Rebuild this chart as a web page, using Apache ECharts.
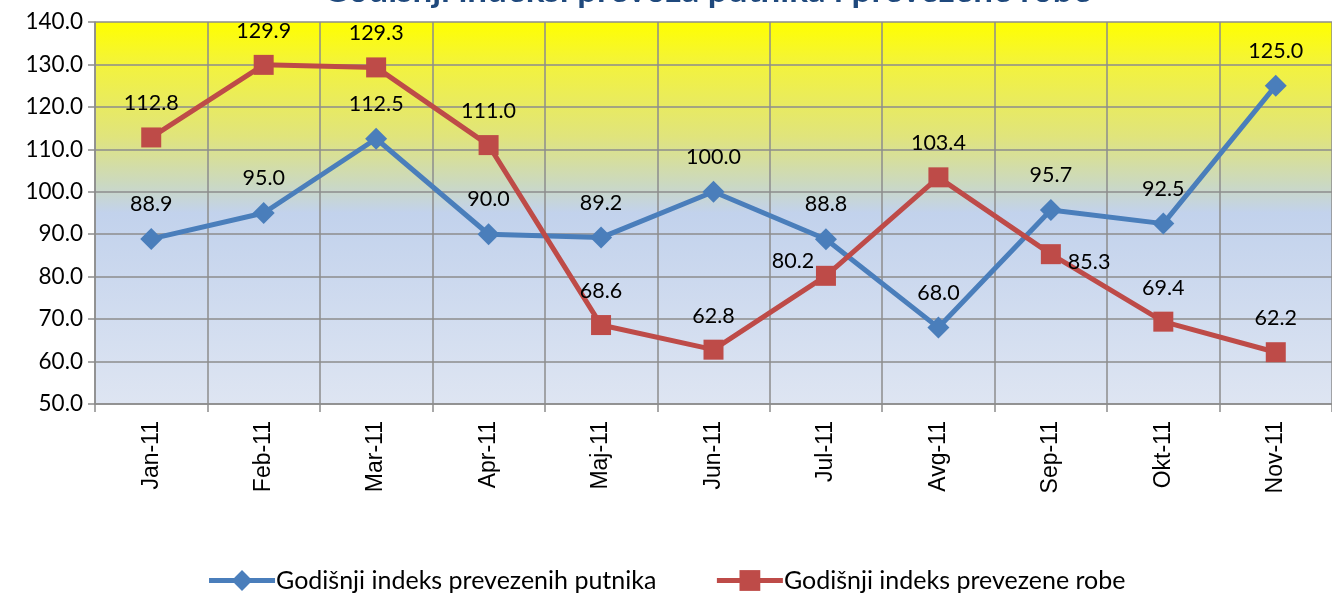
<!DOCTYPE html>
<html><head><meta charset="utf-8">
<script src="https://cdn.jsdelivr.net/npm/echarts@6/dist/echarts.min.js"></script>
<style>html,body{margin:0;padding:0;background:#fff}#c{width:1332px;height:595px}</style>
</head><body><div id="c"></div>
<script>
const categories = ['Jan-11','Feb-11','Mar-11','Apr-11','Maj-11','Jun-11','Jul-11','Avg-11','Sep-11','Okt-11','Nov-11'];
const putnici = [88.9, 95.0, 112.5, 90.0, 89.2, 100.0, 88.8, 68.0, 95.7, 92.5, 125.0];
const roba = [112.8, 129.9, 129.3, 111.0, 68.6, 62.8, 80.2, 103.4, 85.3, 69.4, 62.2];
const seriesNames = ['Godišnji indeks prevezenih putnika', 'Godišnji indeks prevezene robe'];
const titleText = 'Godišnji indeksi prevoza putnika i prevezene robe';

const labelFont = {fontFamily: 'Lato, "Open Sans", sans-serif', fontSize: 21.5, color: '#000'};
function mk(vals, overrides) {
  return vals.map((v, i) => overrides[i] ? {value: v, label: overrides[i]} : v);
}
const chart = echarts.init(document.getElementById('c'), null, {renderer: 'canvas'});
chart.setOption({
  animation: false,
  title: {text: titleText, left: 318, top: -32,
    textStyle: {fontFamily: 'Lato, sans-serif', fontSize: 35, fontWeight: 'bold', color: '#1F497D'}},
  grid: {left: 95, right: -9, top: 22, bottom: 191, containLabel: false,
    show: true, borderWidth: 0,
    backgroundColor: new echarts.graphic.LinearGradient(0, 0, 0, 1, [
      {offset: 0, color: '#FFFF00'},
      {offset: 0.12, color: '#F2F240'},
      {offset: 0.3, color: '#E0E47C'},
      {offset: 0.43, color: '#CAD8C4'},
      {offset: 0.5, color: '#C2D2EC'},
      {offset: 1, color: '#DEE5F2'}
    ])},
  legend: {bottom: -3, left: 'center', itemGap: 58, itemWidth: 66, itemHeight: 26,
    lineStyle: {width: 5},
    textStyle: {fontFamily: 'Lato, "Open Sans", sans-serif', fontSize: 25, color: '#000', padding: [0,0,0,-4]},
    data: [seriesNames[0], seriesNames[1]]},
  xAxis: {type: 'category', data: categories, boundaryGap: true,
    axisLine: {lineStyle: {color: '#8C8C8C', width: 1.5}},
    axisTick: {show: true, length: 8, lineStyle: {color: '#8C8C8C', width: 1.5}},
    splitLine: {show: true, interval: 0, lineStyle: {color: '#8C8C8C', width: 1.5}},
    axisLabel: {rotate: 90, interval: 0, margin: 17, fontFamily: '"Liberation Sans", Arial, sans-serif', fontSize: 23, color: '#000'}},
  yAxis: {type: 'value', min: 50, max: 140, interval: 10,
    axisLine: {show: true, lineStyle: {color: '#8C8C8C', width: 1.5}},
    axisTick: {show: true, length: 7, lineStyle: {color: '#8C8C8C', width: 1.5}},
    splitLine: {show: true, lineStyle: {color: '#8C8C8C', width: 1.5}},
    axisLabel: {formatter: v => v.toFixed(1), margin: 12, fontFamily: 'Lato, "Open Sans", sans-serif', fontSize: 22.5, color: '#000'}},
  series: [
    {name: seriesNames[0], type: 'line', data: putnici,
      symbol: 'diamond', symbolSize: 22, itemStyle: {color: '#4A7EBB'},
      lineStyle: {width: 5, color: '#4A7EBB'},
      label: {show: true, position: 'top', distance: 13, formatter: p => p.value.toFixed(1), ...labelFont}},
    {name: seriesNames[1], type: 'line', data: mk(roba, {6: {offset: [-33, 19]}, 8: {position: 'right', distance: 7, offset: [0, 8]}}),
      symbol: 'rect', symbolSize: 20, itemStyle: {color: '#BE4B48'},
      lineStyle: {width: 5, color: '#BE4B48'},
      label: {show: true, position: 'top', distance: 13, formatter: p => p.value.toFixed(1), ...labelFont}}
  ]
});
</script></body></html>
